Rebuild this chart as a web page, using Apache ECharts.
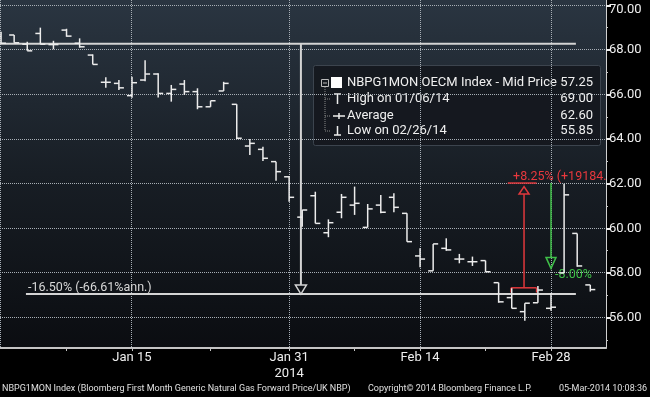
<!DOCTYPE html>
<html>
<head>
<meta charset="utf-8">
<script src="https://cdn.jsdelivr.net/npm/echarts@6/dist/echarts.min.js"></script>
<style>
html,body{margin:0;padding:0;background:#000;}
#chart{width:650px;height:397px;}
</style>
</head>
<body>
<div id="chart"></div>
<script>
'use strict';

/* trading days shown on the chart */
var dates = ['Dec 31','Jan 2','Jan 3','Jan 6','Jan 7','Jan 8','Jan 9','Jan 10','Jan 13','Jan 14',
	'Jan 15','Jan 16','Jan 17','Jan 20','Jan 21','Jan 22','Jan 23','Jan 24','Jan 27','Jan 28',
	'Jan 29','Jan 30','Jan 31','Feb 3','Feb 4','Feb 5','Feb 6','Feb 7','Feb 10','Feb 11',
	'Feb 12','Feb 13','Feb 14','Feb 17','Feb 18','Feb 19','Feb 20','Feb 21','Feb 24','Feb 25',
	'Feb 26','Feb 27','Feb 28','Mar 3','Mar 4','Mar 5'];

var opens  = [68.60,68.67,68.26,68.74,68.24,68.89,68.30,67.77,66.55,66.50,
	65.95,66.65,66.92,66.05,66.47,66.13,65.45,66.16,65.56,63.69,
	63.54,62.99,62.31,60.50,61.46,59.80,60.72,61.04,60.04,61.04,
	61.39,60.67,58.76,58.09,59.10,58.62,58.50,58.55,57.56,56.89,
	56.26,56.66,56.41,58.00,59.77,57.46];
var highs  = [68.82,68.67,68.37,69.00,68.41,68.95,68.52,67.80,66.77,66.65,
	66.80,67.54,66.95,66.43,66.65,66.28,65.72,66.57,65.56,64.00,
	63.66,62.99,62.35,60.82,61.64,60.40,61.54,61.87,61.09,61.49,
	61.57,60.67,59.10,59.30,59.55,58.85,58.73,58.55,57.56,57.31,
	56.64,57.41,57.10,62.00,59.77,57.46];
var lows   = [68.30,68.32,67.96,68.26,68.03,68.59,68.10,67.35,66.30,66.20,
	65.86,66.60,65.87,65.68,65.98,65.34,65.45,66.16,64.00,63.29,
	63.02,62.13,61.19,60.07,60.22,59.60,60.45,60.60,60.04,60.67,
	60.72,59.40,58.25,58.09,58.99,58.43,58.31,58.03,56.66,56.41,
	55.85,56.66,56.30,57.98,58.28,57.16];
var closes = [68.30,68.32,67.96,68.26,68.24,68.62,68.14,67.35,66.55,66.30,
	66.53,66.92,66.05,66.23,66.13,65.45,65.72,66.50,64.04,63.81,
	63.14,62.54,61.39,60.82,60.22,60.25,61.39,61.12,60.87,60.72,
	60.94,59.40,58.62,59.30,59.03,58.62,58.50,58.05,56.70,56.41,
	56.64,57.23,56.46,61.50,58.31,57.25];

/* axis marks */
var labelDays = ['Jan 15','Jan 31','Feb 14','Feb 28'];
var tickDays = ['Jan 8','Jan 15','Jan 23','Jan 31','Feb 7','Feb 14','Feb 21','Feb 28'];
var yLabels = [56,58,60,62,64,66,68,70];
var yMinor = [55,57,59,61,63,65,67,69];

/* annotations: [x1, v1, x2, v2] in day index / price */
var measureLines = [[-0.08,68.28,43.9,68.28],[1.9,57.05,43.9,57.05],[22.9,68.28,22.9,57.46]];
var redLines = [[38.7,62.03,40.9,62.03],[39.94,61.54,39.94,57.33],[38.95,57.33,40.9,57.33],
	[38.95,57.33,38.95,57.12],[40.9,57.33,40.9,57.12]];
var greenLines = [[42.0,62.03,42.0,58.71]];
/* arrow heads: [x, tip value, direction (1 down, -1 up)] */
var measureHeads = [[22.9,57.05,1]];
var redHeads = [[39.94,61.87,-1]];
var greenHeads = [[42.0,58.2,1]];
var noteTexts = ['-16.50% (-66.61%ann.)','+8.25% (+19184.0%ann.)','-8.00%'];
var notePos = [[2.06,57.32],[39.1,62.31],[42.3,57.9]];
var noteColors = ['#d8d8d8','#e8383d','#3fbf48'];

var lastPrice = closes[closes.length - 1];
var xMin = -0.081, xMax = 46.2, yMin = 54.63, yMax = 70.24;

function idx(d) { return dates.indexOf(d); }

var ohlcData = dates.map(function (d, i) {
	return [i, opens[i], highs[i], lows[i], closes[i]];
});

/* grid lines: each row anchored at a point inside the plot */
var hGridData = yLabels.map(function (v) { return [idx('Jan 31'), v]; });
var vGridData = [xMin + 0.05].concat(labelDays.map(idx)).map(function (i) { return [i, yLabels[0]]; });

function hGridRender(params, api) {
	var cs = params.coordSys;
	var y = Math.floor(api.coord([api.value(0), api.value(1)])[1]) + 0.5;
	return { type: 'line', shape: { x1: cs.x, y1: y, x2: cs.x + cs.width, y2: y },
		style: { stroke: '#a8afb6', lineWidth: 1, lineDash: [1, 1] } };
}

function vGridRender(params, api) {
	var cs = params.coordSys;
	var x = Math.floor(api.coord([api.value(0), api.value(1)])[0]) + 0.5;
	return { type: 'line', shape: { x1: x, y1: cs.y, x2: x, y2: cs.y + cs.height },
		style: { stroke: '#a8afb6', lineWidth: 1, lineDash: [1, 1] } };
}

function renderBar(params, api) {
	var x = api.value(0);
	var o = api.coord([x, api.value(1)]);
	var h = api.coord([x, api.value(2)]);
	var l = api.coord([x, api.value(3)]);
	var c = api.coord([x, api.value(4)]);
	var st = { stroke: '#ececec', lineWidth: 1.5 };
	return {
		type: 'group',
		children: [
			{ type: 'line', shape: { x1: h[0], y1: h[1], x2: l[0], y2: l[1] }, style: st },
			{ type: 'line', shape: { x1: o[0] - 5, y1: o[1], x2: o[0], y2: o[1] }, style: st },
			{ type: 'line', shape: { x1: c[0], y1: c[1], x2: c[0] + 5, y2: c[1] }, style: st }
		]
	};
}

function segRender(color, width) {
	return function (params, api) {
		var p1 = api.coord([api.value(0), api.value(1)]);
		var p2 = api.coord([api.value(2), api.value(3)]);
		return { type: 'line', shape: { x1: p1[0], y1: p1[1], x2: p2[0], y2: p2[1] },
			style: { stroke: color, lineWidth: width } };
	};
}

function headRender(color, h, w) {
	return function (params, api) {
		var p = api.coord([api.value(0), api.value(1)]);
		var d = api.value(2);
		return { type: 'polygon',
			shape: { points: [[p[0], p[1]], [p[0] - w, p[1] - d * h], [p[0] + w, p[1] - d * h]] },
			style: { stroke: color, fill: 'none', lineWidth: 1.5 } };
	};
}

function textRender(params, api) {
	var p = api.coord([api.value(0), api.value(1)]);
	return { type: 'text', x: p[0], y: p[1],
		style: { text: noteTexts[params.dataIndex], fill: noteColors[params.dataIndex],
			font: '12.5px Roboto', align: 'left', verticalAlign: 'middle' } };
}

function annSeries(data, render, z, clip) {
	return { type: 'custom', data: data, renderItem: render, clip: clip !== false, silent: true,
		encode: { x: [0], y: [1] }, xAxisIndex: 0, yAxisIndex: 0, z: z || 3 };
}

var chart = echarts.init(document.getElementById('chart'));

var option = {
	backgroundColor: '#000',
	animation: false,
	textStyle: { fontFamily: 'Roboto' },
	grid: {
		left: 0, right: 44, top: 0, bottom: 49,
		show: true, borderWidth: 0,
		backgroundColor: new echarts.graphic.LinearGradient(0, 0, 0, 1, [
			{ offset: 0, color: '#2a3541' },
			{ offset: 0.5, color: '#181e25' },
			{ offset: 1, color: '#0b0d11' }
		])
	},
	xAxis: {
		type: 'value', min: xMin, max: xMax, position: 'bottom',
		axisLine: { onZero: false, lineStyle: { color: '#c4c4c4', width: 2 } },
		axisTick: { customValues: tickDays.map(idx), length: 3, lineStyle: { color: '#c4c4c4' } },
		axisLabel: {
			customValues: labelDays.map(idx), color: '#eeeeee', fontSize: 13, margin: 2, lineHeight: 16,
			formatter: function (v) { var s = dates[Math.round(v)]; return s === 'Jan 31' ? s + '\n2014' : s; }
		},
		splitLine: { show: false }
	},
	yAxis: [{
		type: 'value', min: yMin, max: yMax, position: 'right',
		axisLine: { show: true, onZero: false, lineStyle: { color: '#d0d0d0', width: 1 } },
		axisTick: { customValues: yLabels, length: 5, lineStyle: { color: '#eeeeee', width: 2 } },
		axisLabel: {
			customValues: yLabels, color: '#eeeeee', fontSize: 13, margin: 3,
			formatter: function (v) { return v === 70 ? '{top|70.00}' : v.toFixed(2); },
			rich: { top: { color: '#eeeeee', fontSize: 13, padding: [9, 0, 0, 0] } }
		},
		splitLine: { show: false }
	}, {
		type: 'value', min: yMin, max: yMax, position: 'right',
		axisLine: { show: false, onZero: false },
		axisTick: { customValues: yMinor, length: 2, lineStyle: { color: '#cccccc' } },
		axisLabel: { show: false },
		splitLine: { show: false }
	}],
	series: [
		annSeries(hGridData, hGridRender, 3, false),
		annSeries(vGridData, vGridRender, 3, false),
		{
			type: 'custom', name: 'NBPG1MON OECM Index', data: ohlcData, renderItem: renderBar,
			encode: { x: 0, y: [1, 2, 3, 4] }, xAxisIndex: 0, yAxisIndex: 0, z: 4,
			markLine: {
				silent: true, symbol: 'none', animation: false,
				lineStyle: { opacity: 0 },
				data: [{ yAxis: lastPrice }],
				label: {
					position: 'end', distance: 2, formatter: lastPrice.toFixed(2),
					backgroundColor: '#f2f2f2', color: '#000', fontSize: 13, padding: [0, 3, 0, 3]
				}
			}
		},
		annSeries(measureLines, segRender('#d4d4d4', 2)),
		annSeries(measureHeads, headRender('#d4d4d4', 9, 5.5)),
		annSeries(redLines, segRender('#e0383c', 1.5)),
		annSeries(redHeads, headRender('#e0383c', 7.5, 5)),
		annSeries(greenLines, segRender('#3fbf48', 1.5)),
		annSeries(greenHeads, headRender('#3fbf48', 11, 5)),
		annSeries(notePos, textRender)
	],
	graphic: [
		{ type: 'rect', shape: { x: 313.5, y: 65.5, width: 287, height: 80, r: 2 },
			style: { fill: 'rgba(20,24,30,0.93)', stroke: '#3c444e', lineWidth: 1 } },
		{ type: 'rect', shape: { x: 321.5, y: 79.5, width: 7, height: 7 }, style: { fill: 'none', stroke: '#bbb', lineWidth: 1 } },
		{ type: 'line', shape: { x1: 323, y1: 83, x2: 327, y2: 83 }, style: { stroke: '#bbb', lineWidth: 1 } },
		{ type: 'rect', shape: { x: 331, y: 77, width: 11, height: 11 }, style: { fill: '#ffffff' } },
		{ type: 'line', shape: { x1: 325, y1: 87, x2: 325, y2: 131 }, style: { stroke: '#888', lineWidth: 1, lineDash: [1, 1] } },
		{ type: 'line', shape: { x1: 325, y1: 99, x2: 331, y2: 99 }, style: { stroke: '#888', lineWidth: 1, lineDash: [1, 1] } },
		{ type: 'line', shape: { x1: 325, y1: 116, x2: 331, y2: 116 }, style: { stroke: '#888', lineWidth: 1, lineDash: [1, 1] } },
		{ type: 'line', shape: { x1: 325, y1: 131, x2: 331, y2: 131 }, style: { stroke: '#888', lineWidth: 1, lineDash: [1, 1] } },
		{ type: 'line', shape: { x1: 334, y1: 94, x2: 341, y2: 94 }, style: { stroke: '#eee', lineWidth: 1.5 } },
		{ type: 'line', shape: { x1: 337.5, y1: 94, x2: 337.5, y2: 104 }, style: { stroke: '#eee', lineWidth: 1.5 } },
		{ type: 'line', shape: { x1: 333, y1: 116, x2: 345, y2: 116 }, style: { stroke: '#eee', lineWidth: 1.5 } },
		{ type: 'line', shape: { x1: 339, y1: 113, x2: 339, y2: 119 }, style: { stroke: '#eee', lineWidth: 1.5 } },
		{ type: 'line', shape: { x1: 337.5, y1: 126, x2: 337.5, y2: 135 }, style: { stroke: '#eee', lineWidth: 1.5 } },
		{ type: 'line', shape: { x1: 334, y1: 135, x2: 341, y2: 135 }, style: { stroke: '#eee', lineWidth: 1.5 } },
		{ type: 'text', x: 347, y: 83, style: { text: 'NBPG1MON OECM Index - Mid Price', fill: '#f0f0f0', font: '13px Roboto', verticalAlign: 'middle' } },
		{ type: 'text', x: 347, y: 99, style: { text: 'High on 01/06/14', fill: '#f0f0f0', font: '13px Roboto', verticalAlign: 'middle' } },
		{ type: 'text', x: 347, y: 116, style: { text: 'Average', fill: '#f0f0f0', font: '13px Roboto', verticalAlign: 'middle' } },
		{ type: 'text', x: 347, y: 131, style: { text: 'Low on 02/26/14', fill: '#f0f0f0', font: '13px Roboto', verticalAlign: 'middle' } },
		{ type: 'text', x: 593, y: 83, style: { text: lastPrice.toFixed(2), fill: '#f0f0f0', font: '13px Roboto', align: 'right', verticalAlign: 'middle' } },
		{ type: 'text', x: 593, y: 99, style: { text: '69.00', fill: '#f0f0f0', font: '13px Roboto', align: 'right', verticalAlign: 'middle' } },
		{ type: 'text', x: 593, y: 116, style: { text: '62.60', fill: '#f0f0f0', font: '13px Roboto', align: 'right', verticalAlign: 'middle' } },
		{ type: 'text', x: 593, y: 131, style: { text: '55.85', fill: '#f0f0f0', font: '13px Roboto', align: 'right', verticalAlign: 'middle' } },
		{ type: 'text', x: 2, y: 389, style: { text: 'NBPG1MON Index (Bloomberg First Month Generic Natural Gas Forward Price/UK NBP)', fill: '#e0e0e0', font: '9px Roboto', verticalAlign: 'middle' } },
		{ type: 'text', x: 368, y: 389, style: { text: 'Copyright\u00a9 2014 Bloomberg Finance L.P.', fill: '#e0e0e0', font: '9px Roboto', verticalAlign: 'middle' } },
		{ type: 'text', x: 647, y: 389, style: { text: '05-Mar-2014 10:08:36', fill: '#e0e0e0', font: '9px Roboto', align: 'right', verticalAlign: 'middle' } }
	]
};

chart.setOption(option);
window.addEventListener('resize', function () {
	chart.resize();
});
</script>
</body>
</html>
